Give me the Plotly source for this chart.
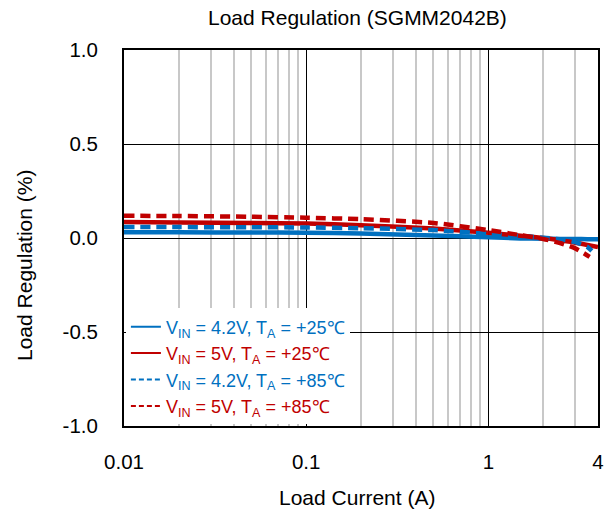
import plotly.graph_objects as go

# ---- data ----
x_25 = [0.01, 0.02, 0.05, 0.1, 0.2, 0.5, 1, 1.5, 2, 2.5, 3, 3.5, 4]
y_42_25 = [0.030, 0.030, 0.029, 0.028, 0.024, 0.013, 0.004, -0.002, -0.004, -0.005, -0.005, -0.006, -0.006]
y_5_25 = [0.085, 0.083, 0.080, 0.077, 0.068, 0.050, 0.028, 0.012, 0.000, -0.012, -0.025, -0.037, -0.048]

x_42_85 = [0.01, 0.02, 0.05, 0.1, 0.2, 0.5, 1, 1.5, 2, 2.5, 3, 3.5, 3.7]
y_42_85 = [0.058, 0.058, 0.057, 0.056, 0.052, 0.042, 0.022, 0.010, 0.002, -0.008, -0.022, -0.048, -0.068]

x_5_85 = [0.01, 0.02, 0.05, 0.1, 0.2, 0.5, 1, 1.5, 2, 2.5, 3, 3.6]
y_5_85 = [0.118, 0.117, 0.113, 0.108, 0.100, 0.080, 0.042, 0.015, -0.005, -0.028, -0.055, -0.100]

names = [
    "V<sub>IN</sub> = 4.2V, T<sub>A</sub> = +25℃",
    "V<sub>IN</sub> = 5V, T<sub>A</sub> = +25℃",
    "V<sub>IN</sub> = 4.2V, T<sub>A</sub> = +85℃",
    "V<sub>IN</sub> = 5V, T<sub>A</sub> = +85℃",
]

x_tickvals = [0.01, 0.1, 1, 4]
x_ticktext = ["0.01", "0.1", "1", "4"]
x_minor = [0.02, 0.03, 0.04, 0.05, 0.06, 0.07, 0.08, 0.09,
           0.2, 0.3, 0.4, 0.5, 0.6, 0.7, 0.8, 0.9, 2, 3]
y_tickvals = [-1.0, -0.5, 0.0, 0.5, 1.0]
y_ticktext = ["-1.0", "-0.5", "0.0", "0.5", "1.0"]

BLUE = "#0070C0"
RED = "#C00000"
FONT = "Liberation Sans"

series = [
    (x_25, y_42_25, BLUE, "solid", names[0]),
    (x_25, y_5_25, RED, "solid", names[1]),
    (x_42_85, y_42_85, BLUE, "dash", names[2]),
    (x_5_85, y_5_85, RED, "dash", names[3]),
]

fig = go.Figure()
# legend-only entries (thin lines, colored text)
for xs, ys, col, dash, nm in series:
    fig.add_trace(go.Scatter(
        x=[None], y=[None], mode="lines",
        line=dict(color=col, width=2, dash=("5px,3px" if dash == "dash" else "solid")),
        name=f'<span style="color:{col}">{nm}</span>',
        showlegend=True, hoverinfo="skip"))
# data traces
for xs, ys, col, dash, nm in series:
    fig.add_trace(go.Scatter(
        x=xs, y=ys, mode="lines",
        line=dict(color=col, width=4.5, dash=("10px,6px" if dash == "dash" else "solid"),
                  shape="spline", smoothing=0.6),
        showlegend=False))

PL, PR, PT, PB = 124, 598, 50, 426  # plot area in px (for title placement)

fig.update_layout(
    width=611, height=512,
    margin=dict(l=PL, r=611 - PR, t=PT, b=512 - PB, autoexpand=False),
    paper_bgcolor="white", plot_bgcolor="white",
    font=dict(family=FONT, size=20, color="black"),
    title=dict(text="Load Regulation (SGMM2042B)", x=0.585, xanchor="center",
               y=0.965, yanchor="middle", font=dict(family=FONT, size=21, color="black")),
    legend=dict(x=0.004, y=0.004, xanchor="left", yanchor="bottom", bgcolor="white",
                font=dict(family=FONT, size=18), tracegroupgap=0, itemwidth=30,
                borderwidth=0),
    xaxis=dict(
        type="log", range=[-2, 0.60206], automargin=False,
        tickmode="array", tickvals=x_tickvals, ticktext=x_ticktext,
        tickfont=dict(family=FONT, size=20.5, color="black"),
        showgrid=True, gridcolor="black", gridwidth=1,
        minor=dict(tickmode="array", tickvals=x_minor, showgrid=True,
                   gridcolor="#c8c8c8", gridwidth=1.5),
        showline=True, mirror=True, linecolor="black", linewidth=2,
        ticks="", ticklabelstandoff=16,
    ),
    yaxis=dict(
        range=[-1, 1], automargin=False,
        tickmode="array", tickvals=y_tickvals, ticktext=y_ticktext,
        tickfont=dict(family=FONT, size=20.5, color="black"),
        showgrid=True, gridcolor="black", gridwidth=1, zeroline=False,
        showline=True, mirror=True, linecolor="black", linewidth=2,
        ticks="", ticklabelstandoff=20,
    ),
    annotations=[
        dict(text="Load Regulation (%)", xref="paper", yref="paper",
             x=(24 - PL) / (PR - PL), y=(PB - 266) / (PB - PT),
             xanchor="center", yanchor="middle", textangle=-90, showarrow=False,
             font=dict(family=FONT, size=21, color="black")),
        dict(text="Load Current (A)", xref="paper", yref="paper",
             x=(357 - PL) / (PR - PL), y=(PB - 497) / (PB - PT),
             xanchor="center", yanchor="middle", showarrow=False,
             font=dict(family=FONT, size=21, color="black")),
    ],
)

fig.write_html("out.html")
